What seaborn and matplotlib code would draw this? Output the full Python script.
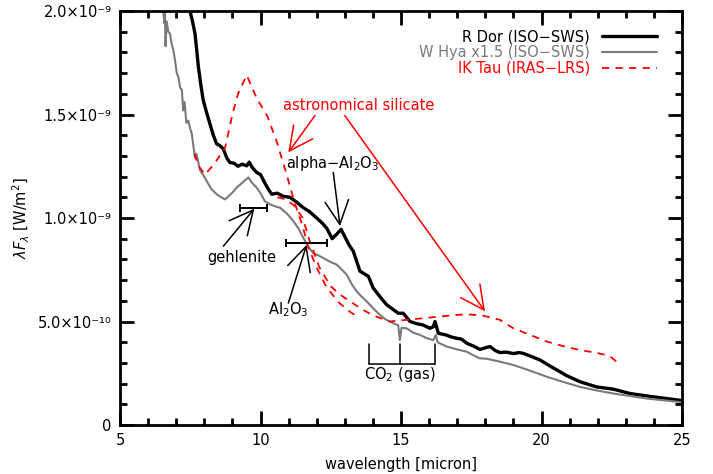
import numpy as np
import pandas as pd
import matplotlib
matplotlib.use("Agg")
import matplotlib.pyplot as plt
import seaborn as sns
from matplotlib.ticker import FixedLocator, FixedFormatter, MultipleLocator

# ---------------- data (flux in units of 1e-9 W/m^2) ----------------
rdor_wl = [7.49, 7.58, 7.67, 7.79, 7.88, 7.96, 8.08, 8.2, 8.32, 8.44, 8.55, 8.68, 8.8, 8.91,
           9.05, 9.2, 9.35, 9.51, 9.6, 9.7, 9.86, 10.0, 10.15, 10.28, 10.4, 10.6, 10.8, 11.05,
           11.3, 11.52, 11.75, 12.0, 12.2, 12.36, 12.55, 12.7, 12.87, 13.0, 13.15, 13.3,
           13.54, 13.7, 13.84, 14.01, 14.25, 14.49, 14.7, 14.9, 15.08, 15.32, 15.55, 15.79,
           16.03, 16.15, 16.21, 16.33, 16.6, 16.8, 16.98, 17.15, 17.34, 17.6, 17.81, 18.05,
           18.17, 18.35, 18.52, 18.75, 19.0, 19.2, 19.35, 19.6, 19.95, 20.3, 20.66, 20.9,
           21.37, 21.96, 22.56, 23.15, 23.98, 24.5, 25.0]
rdor_fl = [2.00, 1.95, 1.89, 1.73, 1.64, 1.57, 1.51, 1.455, 1.40, 1.358, 1.35, 1.333, 1.29, 1.268,
           1.265, 1.25, 1.26, 1.252, 1.27, 1.245, 1.22, 1.21, 1.17, 1.139, 1.115, 1.12, 1.105, 1.10,
           1.075, 1.05, 1.03, 1.00, 0.975, 0.95, 0.90, 0.92, 0.945, 0.91, 0.87, 0.84,
           0.743, 0.73, 0.718, 0.662, 0.62, 0.581, 0.56, 0.54, 0.54, 0.50, 0.49, 0.483,
           0.467, 0.475, 0.50, 0.443, 0.435, 0.425, 0.419, 0.415, 0.395, 0.38, 0.365, 0.375,
           0.379, 0.36, 0.35, 0.352, 0.345, 0.35, 0.346, 0.333, 0.314, 0.285, 0.257, 0.238,
           0.209, 0.184, 0.173, 0.152, 0.136, 0.127, 0.118]

whya_wl = [6.54, 6.58, 6.6, 6.62, 6.66, 6.72, 6.78, 6.84, 6.9, 6.96, 7.02, 7.08, 7.14, 7.2,
           7.25, 7.3, 7.36, 7.43, 7.5, 7.55, 7.6, 7.67, 7.72, 7.85, 7.95, 8.08, 8.25, 8.44,
           8.6, 8.74, 8.9, 9.05, 9.15, 9.35, 9.57, 9.7, 9.86, 10.0, 10.16, 10.35, 10.55, 10.69,
           10.95, 11.17, 11.35, 11.52, 11.7, 11.88, 12.05, 12.23, 12.45, 12.71, 12.9, 13.07,
           13.25, 13.42, 13.6, 13.78, 14.0, 14.25, 14.45, 14.6, 14.8, 14.9, 14.96, 15.02,
           15.2, 15.45, 15.68, 15.9, 16.15, 16.24, 16.3, 16.45, 16.63, 17.0, 17.34, 17.6,
           17.81, 18.05, 18.52, 19.0, 19.6, 20.19, 20.8, 21.37, 21.96, 22.56, 23.15, 23.74,
           24.3, 25.0]
whya_fl = [2.00, 1.94, 1.99, 1.83, 1.95, 1.90, 1.89, 1.84, 1.81, 1.76, 1.70, 1.68, 1.63, 1.62,
           1.52, 1.56, 1.46, 1.47, 1.43, 1.41, 1.36, 1.29, 1.31, 1.23, 1.21, 1.18, 1.14, 1.115,
           1.10, 1.09, 1.11, 1.13, 1.147, 1.17, 1.196, 1.17, 1.147, 1.12, 1.08, 1.065, 1.055, 1.05,
           1.02, 0.985, 0.95, 0.905, 0.86, 0.83, 0.82, 0.807, 0.79, 0.775, 0.75, 0.726,
           0.68, 0.646, 0.62, 0.597, 0.565, 0.532, 0.51, 0.50, 0.487, 0.483, 0.41, 0.47,
           0.467, 0.445, 0.435, 0.42, 0.41, 0.435, 0.40, 0.39, 0.379, 0.365, 0.354, 0.335,
           0.322, 0.32, 0.306, 0.29, 0.262, 0.233, 0.207, 0.184, 0.167, 0.152, 0.14, 0.128,
           0.12, 0.11]

# IRAS-LRS: two overlapping segments
iktau1_wl = [7.65, 7.8, 8.02, 8.35, 8.74, 9.0, 9.2, 9.51, 9.86, 10.25, 10.6, 10.93, 11.2,
             11.5, 11.7, 12.0, 12.35, 12.8, 13.2, 13.45]
iktau1_fl = [1.31, 1.25, 1.21, 1.26, 1.34, 1.50, 1.60, 1.69, 1.58, 1.49, 1.36, 1.21, 1.08,
             0.96, 0.86, 0.76, 0.665, 0.59, 0.545, 0.525]
iktau2_wl = [10.6, 10.9, 11.2, 11.5, 11.75, 12.1, 12.5, 12.83, 13.19, 13.6, 14.0, 14.6, 15.2,
             15.8, 16.39, 16.98, 17.45, 17.93, 18.52, 19.0, 19.6, 20.19, 20.8, 21.37, 21.9,
             22.3, 22.5, 22.67]
iktau2_fl = [1.10, 1.09, 1.06, 1.00, 0.89, 0.76, 0.67, 0.63, 0.597, 0.56, 0.53, 0.50, 0.508,
             0.516, 0.524, 0.532, 0.534, 0.528, 0.508, 0.467, 0.435, 0.403, 0.38, 0.362, 0.35,
             0.338, 0.325, 0.306]

labels = ["R Dor (ISO\u2212SWS)", "W Hya x1.5 (ISO\u2212SWS)", "IK Tau (IRAS\u2212LRS)"]
colors = ["black", "#7a7a7a", "#ff0000"]

ytick_vals = [0, 0.5e-9, 1.0e-9, 1.5e-9, 2.0e-9]
ytick_labels = ["0", "5.0\u00d710\u207b\u00b9\u2070", "1.0\u00d710\u207b\u2079",
                "1.5\u00d710\u207b\u2079", "2.0\u00d710\u207b\u2079"]
xtick_vals = [5, 10, 15, 20, 25]

# gehlenite / Al2O3 feature bars (center, half-width, flux)
bar_center = [9.75, 11.64]
bar_half = [0.48, 0.72]
bar_flux = [1.05, 0.877]

# ---------------- plot ----------------
sns.set_style("ticks")
plt.rcParams["font.family"] = ["DejaVu Sans"]
plt.rcParams.update({"text.color": "black", "axes.labelcolor": "black",
                     "xtick.color": "black", "ytick.color": "black",
                     "axes.edgecolor": "black"})

fig = plt.figure(figsize=(7.13, 4.74), dpi=100)
ax = fig.add_axes([120 / 713, 49 / 474, 562 / 713, 414 / 474])

def frame(wl, fl):
    return pd.DataFrame({"wl": wl, "fl": np.asarray(fl) * 1e-9})

sns.lineplot(data=frame(rdor_wl, rdor_fl), x="wl", y="fl", ax=ax, color=colors[0],
             lw=2.4, sort=False, estimator=None, label=labels[0])
sns.lineplot(data=frame(whya_wl, whya_fl), x="wl", y="fl", ax=ax, color=colors[1],
             lw=1.5, sort=False, estimator=None, label=labels[1])
sns.lineplot(data=frame(iktau1_wl, iktau1_fl), x="wl", y="fl", ax=ax, color=colors[2],
             lw=1.3, sort=False, estimator=None, label=labels[2])
sns.lineplot(data=frame(iktau2_wl, iktau2_fl), x="wl", y="fl", ax=ax, color=colors[2],
             lw=1.3, sort=False, estimator=None, label="_nolegend_")
for ln in ax.get_lines()[2:4]:
    ln.set_linestyle((0, (4, 3.5)))

ax.set_xlim(5, 25)
ax.set_ylim(0, 2.0e-9)
ax.xaxis.set_major_locator(FixedLocator(xtick_vals))
ax.xaxis.set_minor_locator(MultipleLocator(1))
ax.yaxis.set_major_locator(FixedLocator(ytick_vals))
ax.yaxis.set_major_formatter(FixedFormatter(ytick_labels))
ax.yaxis.set_minor_locator(MultipleLocator(1e-10))
ax.tick_params(which="both", direction="in", top=True, right=True, width=2,
               labelsize=10.5, pad=6)
ax.tick_params(which="major", length=10)
ax.tick_params(which="minor", length=5)
for s in ax.spines.values():
    s.set_linewidth(2)
ax.set_xlabel("wavelength [micron]", fontsize=10.5, labelpad=6)
ax.set_ylabel(r"$\lambda F_\lambda$ [W/m$^2$]", fontsize=10.5, labelpad=4)

leg = ax.legend(loc="upper right", bbox_to_anchor=(0.974, 0.98), frameon=False,
                markerfirst=False, fontsize=10.5, handlelength=3.8, labelspacing=0.05,
                handletextpad=0.8, labelcolor="linecolor", borderpad=0.2)

fs = 10.5
# feature bars
for c, h, f in zip(bar_center, bar_half, bar_flux):
    ax.errorbar([c], [f * 1e-9], xerr=[h], fmt="none", ecolor="black", elinewidth=1.4,
                capsize=3, capthick=1.4)

def arrow(x0, y0, x1, y1, color):
    ax.annotate("", xy=(x1, y1 * 1e-9), xytext=(x0, y0 * 1e-9),
                arrowprops=dict(arrowstyle="->,head_length=1.7,head_width=0.85",
                                color=color, lw=1.1, mutation_scale=10,
                                shrinkA=0, shrinkB=0))

ax.text(10.8, 1.544e-9, "astronomical silicate", color="#ff0000", fontsize=fs,
        ha="left", va="center")
arrow(11.94, 1.495, 10.99, 1.317, "#ff0000")
arrow(13.0, 1.495, 17.99, 0.549, "#ff0000")

ax.text(12.58, 1.262e-9, "alpha\u2212Al$_2$O$_3$", fontsize=fs, ha="center", va="center")
arrow(12.59, 1.22, 12.83, 0.961, "black")

ax.text(9.34, 0.81e-9, "gehlenite", fontsize=fs, ha="center", va="center")
arrow(8.68, 0.864, 9.78, 1.045, "black")

ax.text(10.98, 0.558e-9, "Al$_2$O$_3$", fontsize=fs, ha="center", va="center")
arrow(10.99, 0.589, 11.64, 0.87, "black")

# CO2 bracket
co2_x = [13.86, 14.96, 16.22]
for xv in co2_x:
    ax.plot([xv, xv], [0.39e-9, 0.293e-9], color="black", lw=1.1)
ax.plot([co2_x[0], co2_x[-1]], [0.293e-9, 0.293e-9], color="black", lw=1.1)
ax.text(14.96, 0.243e-9, "CO$_2$ (gas)", fontsize=fs, ha="center", va="center")

fig.savefig("out.png", dpi=100)
